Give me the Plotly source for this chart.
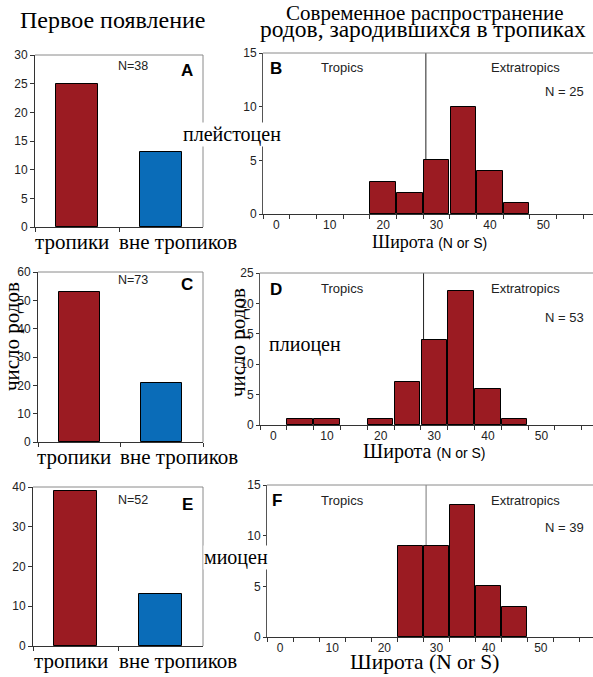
import plotly.graph_objects as go

W, H = 593, 677

# ---------------- data ----------------
categories = ["тропики", "вне тропиков"]
origin_A = [25, 13]   # плейстоцен
origin_C = [53, 21]   # плиоцен
origin_E = [39, 13]   # миоцен
origin_n = ["N=38", "N=73", "N=52"]

lat_bins = [0, 5, 10, 15, 20, 25, 30, 35, 40, 45, 50, 55]
counts_B = [0, 0, 0, 0, 3, 2, 5, 10, 4, 1, 0, 0]
counts_D = [0, 1, 1, 0, 1, 7, 14, 22, 6, 1, 0, 0]
counts_F = [0, 0, 0, 0, 0, 9, 9, 13, 5, 3, 0, 0]
hist_n = ["N = 25", "N = 53", "N = 39"]
tropics_boundary = 28
lat_ticks = [0, 10, 20, 30, 40, 50]
bin_edges = [b - 2.5 for b in lat_bins] + [lat_bins[-1] + 2.5]

periods = ["плейстоцен", "плиоцен", "миоцен"]

# ---------------- style ----------------
RED = "#9b1b22"
BLUE = "#0a6cb8"
SERIF = "Liberation Serif"
SANS = "Liberation Sans"
AXC = "#333333"
FRAME = "#8a8a8a"


def px(x):
    return x / W


def py(y):
    return 1 - y / H


fig = go.Figure()

left_panels = [
    ("x", "y", origin_A, [0, 30], 5, (35, 203), (55, 227)),
    ("x3", "y3", origin_C, [0, 60], 10, (38, 203), (272, 442)),
    ("x5", "y5", origin_E, [0, 40], 10, (33, 203), (487, 646)),
]
hist_panels = [
    ("x2", "y2", counts_B, [0, 15], 5, (263, 593), (53, 214), 59.3, "#222"),
    ("x4", "y4", counts_D, [0, 25], 5, (260, 593), (273, 425), 59.6, "#222"),
    ("x6", "y6", counts_F, [0, 15], 5, (267, 593), (485, 637), 60.0, "#777"),
]

layout = dict(
    width=W, height=H, margin=dict(l=0, r=0, t=0, b=0),
    paper_bgcolor="white", plot_bgcolor="white", showlegend=False,
    bargap=0,
)
shapes = []
annotations = []

cat_shift = [-5, 17]   # horizontal offset of category labels (px)

for xa, ya, vals, yr, dt, (x0, x1), (y0, y1) in left_panels:
    fig.add_trace(go.Bar(
        x=categories, y=vals, xaxis=xa, yaxis=ya, width=0.5,
        marker=dict(color=[RED, BLUE], line=dict(color="black", width=1)),
        hoverinfo="skip",
    ))
    xkey = "xaxis" + xa[1:]
    ykey = "yaxis" + ya[1:]
    layout[xkey] = dict(
        domain=[px(x0), px(x1)], anchor=ya, type="category",
        range=[-0.5, 1.5], tickson="boundaries", ticks="outside",
        ticklen=4, tickcolor=AXC, showline=True, linecolor=AXC,
        linewidth=1, showgrid=False, zeroline=False,
        showticklabels=False, automargin=False, fixedrange=True,
    )
    layout[ykey] = dict(
        domain=[py(y1), py(y0)], anchor=xa, range=yr, dtick=dt,
        ticks="outside", ticklen=4, tickcolor=AXC, showline=True,
        linecolor=AXC, linewidth=1, showgrid=False, zeroline=False,
        tickfont=dict(family=SANS, size=12, color="#222"),
        automargin=False, fixedrange=True,
    )
    shapes.append(dict(type="line", xref=xa + " domain", yref=ya + " domain",
                       x0=0, x1=1, y0=1, y1=1, line=dict(color=FRAME, width=1)))
    shapes.append(dict(type="line", xref=xa + " domain", yref=ya + " domain",
                       x0=1, x1=1, y0=0, y1=1, line=dict(color=FRAME, width=1)))
    for cat, sh in zip(categories, cat_shift):
        annotations.append(dict(
            x=cat, y=0, xref=xa, yref=ya + " domain", text=cat,
            showarrow=False, xanchor="center", yanchor="top",
            xshift=sh, yshift=-1,
            font=dict(family=SERIF, size=21, color="black"),
        ))

for xa, ya, counts, yr, dt, (x0, x1), (y0, y1), xmax, lc in hist_panels:
    xs = [b for b, c in zip(lat_bins, counts) if c > 0]
    ys = [c for c in counts if c > 0]
    fig.add_trace(go.Bar(
        x=xs, y=ys, xaxis=xa, yaxis=ya, width=4.75,
        marker=dict(color=RED, line=dict(color="black", width=1)),
        hoverinfo="skip",
    ))
    xkey = "xaxis" + xa[1:]
    ykey = "yaxis" + ya[1:]
    layout[xkey] = dict(
        domain=[px(x0), px(x1)], anchor=ya, range=[-2.5, xmax],
        tickmode="array", tickvals=lat_ticks, ticks="",
        minor=dict(tickmode="array", tickvals=bin_edges, ticks="outside",
                   ticklen=4, tickcolor=AXC),
        showline=True, linecolor=AXC, linewidth=1, showgrid=False,
        zeroline=False, tickfont=dict(family=SANS, size=12, color="#222"),
        automargin=False, fixedrange=True,
    )
    layout[ykey] = dict(
        domain=[py(y1), py(y0)], anchor=xa, range=yr, dtick=dt,
        ticks="outside", ticklen=3, tickcolor=AXC, showline=True,
        linecolor="#555", linewidth=1, showgrid=False, zeroline=False,
        tickfont=dict(family=SANS, size=12, color="#222"),
        automargin=False, fixedrange=True,
    )
    shapes.append(dict(type="line", xref=xa + " domain", yref=ya + " domain",
                       x0=0, x1=1, y0=1, y1=1, line=dict(color=FRAME, width=1)))
    shapes.append(dict(type="line", xref=xa, yref=ya + " domain",
                       x0=tropics_boundary, x1=tropics_boundary, y0=0, y1=1,
                       layer="below", line=dict(color=lc, width=1)))


def text(x, y, s, size, family=SANS, color="black", bg=None, angle=0, bold=False):
    if bold:
        s = "<b>" + s + "</b>"
    a = dict(x=px(x), y=py(y), xref="paper", yref="paper", text=s,
             showarrow=False, xanchor="center", yanchor="middle",
             font=dict(family=family, size=size, color=color), textangle=angle)
    if bg:
        a["bgcolor"] = bg
        a["borderpad"] = 0
    annotations.append(a)


# titles
text(113, 20, "Первое появление", 24, SERIF)
text(425, 13, "Современное распространение", 21, SERIF)
text(423, 29, "родов, зародившихся в тропиках", 23.5, SERIF)

# panel letters
for (x, y), s in zip([(187, 70), (187, 284), (187, 504)], ["A", "C", "E"]):
    text(x, y, s, 17, SANS, bold=True)
for (x, y), s in zip([(276, 68), (276, 289), (277, 500)], ["B", "D", "F"]):
    text(x, y, s, 17, SANS, bold=True)

# N labels
for (x, y), s in zip([(133, 66), (133, 280), (133, 500)], origin_n):
    text(x, y, s, 12.5, SANS, color="#222")
for (x, y), s in zip([(564, 92), (564, 317), (564, 527)], hist_n):
    text(x, y, s, 13, SANS, color="#222")

# Tropics / Extratropics
for y in (67, 288, 500):
    text(342, y, "Tropics", 13, SANS, color="#222")
    text(525, y, "Extratropics", 13, SANS, color="#222")

# period labels
text(232, 135, periods[0], 20, SERIF, bg="white")
text(305, 344, periods[1], 20, SERIF, bg="white")
text(236, 557, periods[2], 20, SERIF, bg="white")

# y titles
text(12, 337, "число родов", 21, SERIF, angle=-90)
text(238, 343, "число родов", 21, SERIF, angle=-90)

# x titles
small = "<span style='font-family:Liberation Sans;font-size:14px'>(N or S)</span>"
text(429, 242, "Широта " + small, 18, SERIF)
text(424, 451, "Широта " + small, 20, SERIF)
text(424, 662, "Широта (N or S)", 21.5, SERIF)

layout["shapes"] = shapes
layout["annotations"] = annotations
fig.update_layout(**layout)
fig.write_html(
    "out.html",
    config={"displayModeBar": False},
    post_script="document.body.style.margin='0';document.body.style.padding='0';",
)
